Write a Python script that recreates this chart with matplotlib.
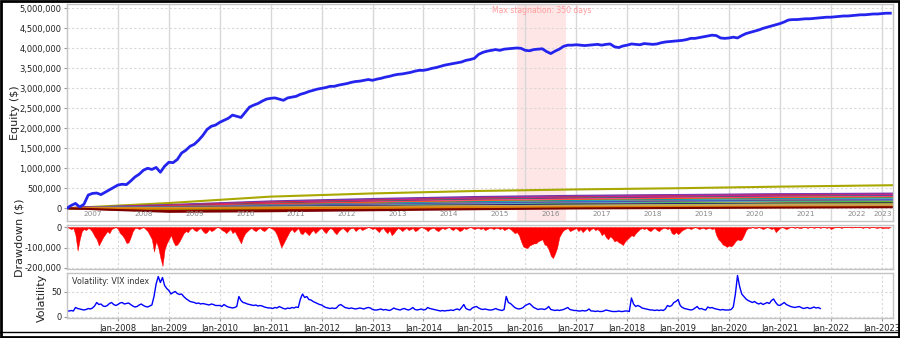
import numpy as np
import matplotlib
matplotlib.use("Agg")
import matplotlib.pyplot as plt
from matplotlib.patches import Rectangle
from matplotlib.ticker import FuncFormatter
from matplotlib.lines import Line2D

plt.rcParams['font.family'] = ['DejaVu Sans']
plt.rcParams['axes.unicode_minus'] = False

# portfolio equity, month-end values in thousands of $ (Jan-2007 .. Mar-2023)
equity_k = [
    0, 70, 120, 30, 100, 330, 370, 380, 340, 400, 460, 520,
    580, 600, 590, 680, 780, 850, 950, 1000, 970, 1020, 900, 1050,
    1150, 1140, 1220, 1380, 1450, 1550, 1600, 1700, 1820, 1970, 2050, 2080,
    2150, 2200, 2250, 2330, 2300, 2270, 2400, 2530, 2580, 2620, 2680, 2730,
    2750, 2760, 2730, 2700, 2760, 2780, 2800, 2850, 2880, 2920, 2950, 2980,
    3000, 3020, 3050, 3050, 3080, 3100, 3120, 3150, 3170, 3180, 3200, 3220,
    3200, 3230, 3250, 3280, 3300, 3330, 3350, 3360, 3380, 3400, 3430, 3450,
    3450, 3470, 3500, 3520, 3550, 3580, 3600, 3620, 3640, 3660, 3700, 3720,
    3750, 3850, 3900, 3930, 3950, 3970, 3950, 3980, 3990, 4000, 4010, 4000,
    3950, 3940, 3970, 3980, 3990, 3920, 3870, 3930, 3980, 4050, 4080, 4080,
    4090, 4080, 4070, 4080, 4090, 4100, 4080, 4100, 4110, 4040, 4020, 4060,
    4080, 4110, 4100, 4090, 4120, 4110, 4100, 4110, 4140, 4160, 4170, 4180,
    4190, 4200, 4220, 4250, 4250, 4270, 4290, 4310, 4330, 4320, 4260, 4250,
    4260, 4280, 4260, 4320, 4370, 4400, 4430, 4460, 4500, 4530, 4560, 4590,
    4620, 4660, 4710, 4720, 4720, 4730, 4740, 4740, 4750, 4760, 4770, 4780,
    4780, 4790, 4800, 4810, 4810, 4820, 4830, 4840, 4840, 4850, 4860, 4860,
    4870, 4880, 4880,
]

# drawdown, half-month values in thousands of $
drawdown_k = [
    0, -5, -10, -5, -40, -115, -60, -20, -10, -15, -5, -10, -25, -45, -60, -90, -70, -50, -35, -20, -30, -10, -5, 0,
    -10, -30, -40, -55, -78, -75, -50, -20, -5, -5, -10, -5, 0, -10, -20, -40, -60, -120, -70, -100, -150, -190, -110, -80,
    -60, -40, -70, -90, -85, -70, -50, -30, -20, -25, -10, -5, -15, -20, -10, -5, -20, -30, -25, -10, -20, -15, -5, 0,
    -5, -15, -20, -30, -20, -10, -30, -20, -40, -60, -80, -50, -30, -20, -10, -5, -15, -20, -10, -5, -15, -20, -10, 0,
    -5, -10, -20, -40, -70, -100, -80, -60, -40, -20, -10, -25, -15, -5, -30, -35, -20, -30, -40, -25, -15, -30, -20, -10,
    -5, -20, -30, -15, -5, -10, -25, -35, -20, -10, -5, -15, -25, -10, -5, -5, -20, -10, -5, -15, -10, -5, 0, -5,
    -10, -5, -15, -25, -10, -5, -20, -30, -15, -40, -30, -15, -5, -10, -20, -10, -5, -15, -10, -5, -20, -15, -5, 0,
    -5, -10, -20, -10, -5, -5, -15, -20, -10, -5, -10, -5, 0, -10, -15, -5, -10, -20, -15, -5, -10, -5, 0, -5,
    -10, -5, -5, -10, -5, -15, -10, -5, -5, -10, -5, -5, -10, -5, -15, -10, -5, -10, -20, -30, -25, -40, -70, -95,
    -100, -103, -90, -85, -80, -80, -70, -65, -60, -85, -90, -110, -140, -152, -130, -100, -50, -30, -15, -10, -5, -20, -15, -10,
    -5, -20, -10, -25, -15, -5, -20, -10, -5, -15, -10, -20, -40, -30, -50, -60, -45, -55, -70, -65, -75, -80, -88, -70,
    -60, -50, -40, -45, -30, -20, -10, -5, -10, -5, -15, -20, -10, -5, -15, -20, -10, -5, -5, -10, -5, -30, -35, -25,
    -35, -25, -15, -10, -5, -5, -10, -5, 0, -5, -10, -5, -5, -10, -5, -5, -10, -5, -40, -60, -70, -85, -90, -97,
    -90, -95, -85, -70, -60, -65, -60, -40, -15, -5, -5, 0, -5, -5, 0, -5, -10, -5, 0, -5, -10, -5, -25, -15,
    -5, 0, -5, -10, -5, 0, 0, -5, 0, -5, -5, 0, 0, -5, 0, 0, -5, 0, 0, -5, 0, 0, -5, 0,
    -10, -5, 0, 0, 0, -5, 0, 0, 0, 0, -3, 0, 0, 0, 0, -5, 0, 0, -5, 0, 0, -3, -5, 0,
    -5, -5, -3, -5, 0,
]

# VIX index, half-month values (Jan-2007 .. Oct-2021)
vix = [
    11, 11, 12, 11, 18, 16, 15, 14, 13, 14, 16, 15, 17, 21, 28, 24, 25, 21, 20, 22, 26, 28, 24, 22,
    24, 27, 28, 25, 26, 27, 24, 21, 19, 20, 23, 25, 22, 20, 19, 21, 23, 40, 65, 80, 68, 78, 62, 56,
    52, 45, 48, 50, 46, 44, 45, 40, 36, 33, 30, 29, 28, 26, 27, 25, 26, 25, 24, 23, 25, 24, 22, 22,
    22, 20, 24, 21, 19, 18, 17, 18, 20, 40, 32, 28, 27, 25, 24, 23, 22, 23, 21, 22, 21, 19, 18, 17,
    17, 16, 18, 17, 20, 18, 16, 15, 17, 16, 18, 17, 19, 18, 35, 45, 38, 40, 34, 33, 30, 28, 26, 24,
    23, 20, 18, 17, 16, 17, 16, 17, 22, 24, 21, 18, 17, 16, 17, 16, 15, 16, 17, 16, 15, 17, 18, 17,
    14, 13, 13, 14, 15, 13, 14, 13, 12, 14, 17, 15, 14, 13, 15, 16, 14, 13, 15, 18, 14, 13, 14, 15,
    13, 14, 18, 16, 15, 14, 13, 12, 11, 12, 11, 12, 12, 13, 12, 14, 15, 13, 18, 24, 16, 14, 13, 17,
    19, 20, 17, 15, 14, 15, 14, 13, 13, 14, 16, 14, 13, 12, 14, 40, 28, 26, 22, 18, 16, 15, 16, 18,
    22, 24, 26, 22, 18, 16, 14, 15, 15, 14, 16, 20, 14, 13, 12, 13, 12, 13, 14, 16, 18, 14, 13, 12,
    12, 11, 11, 12, 11, 12, 15, 11, 11, 10, 11, 10, 10, 11, 13, 12, 11, 10, 10, 10, 11, 10, 10, 11,
    11, 10, 37, 25, 20, 22, 20, 17, 16, 15, 14, 13, 13, 12, 13, 12, 13, 12, 15, 22, 20, 22, 28, 30,
    34, 22, 18, 16, 15, 14, 13, 14, 17, 20, 15, 16, 14, 13, 19, 17, 18, 16, 15, 14, 13, 14, 13, 13,
    13, 14, 19, 45, 82, 60, 45, 40, 35, 32, 30, 28, 30, 27, 25, 27, 24, 26, 28, 26, 32, 35, 28, 23,
    22, 25, 28, 24, 22, 20, 19, 18, 19, 20, 18, 16, 17, 18, 16, 17, 19, 17, 18, 16,
]

# single strategies, thousands of $ at the anchor dates
strategy_dates = [2007.0, 2009.0, 2011.0, 2013.0, 2015.0, 2017.0, 2019.0, 2021.0, 2023.2]
strategies_k = [
    [0, 130, 290, 370, 430, 470, 500, 540, 575],
    [0, 80, 170, 230, 280, 310, 330, 350, 365],
    [0, 70, 150, 210, 260, 290, 320, 340, 350],
    [0, 60, 140, 190, 240, 270, 300, 320, 335],
    [0, 55, 115, 175, 225, 255, 285, 305, 320],
    [0, 50, 120, 180, 230, 260, 290, 310, 325],
    [0, 40, 110, 160, 210, 240, 260, 285, 300],
    [0, 40, 80, 120, 160, 200, 240, 270, 295],
    [0, 45, 100, 150, 200, 230, 255, 275, 290],
    [0, 50, 100, 150, 195, 225, 250, 270, 285],
    [0, 30, 90, 140, 185, 215, 240, 265, 280],
    [0, 40, 95, 135, 170, 200, 230, 255, 270],
    [0, 20, 70, 120, 160, 190, 215, 240, 255],
    [0, 30, 75, 110, 150, 180, 205, 230, 245],
    [0, 25, 60, 100, 135, 165, 190, 215, 230],
    [0, 20, 55, 90, 125, 155, 180, 200, 215],
    [0, 35, 65, 95, 120, 145, 170, 190, 205],
    [0, 25, 55, 85, 115, 145, 170, 190, 200],
    [0, 15, 45, 80, 110, 140, 160, 180, 190],
    [0, 10, 40, 70, 100, 125, 150, 170, 180],
    [0, 20, 40, 65, 95, 120, 140, 160, 170],
    [0, 10, 30, 55, 80, 105, 125, 145, 155],
    [0, -20, 10, 40, 60, 80, 100, 120, 135],
    [0, -50, -30, -5, 20, 50, 80, 110, 130],
    [0, 5, 25, 45, 65, 85, 105, 120, 125],
    [0, -30, -10, 20, 45, 70, 90, 110, 120],
    [0, 15, 35, 50, 70, 90, 100, 110, 115],
    [0, -70, -55, -30, -5, 20, 50, 80, 100],
    [0, 0, 15, 30, 50, 65, 80, 95, 100],
    [0, 10, 20, 35, 50, 60, 70, 80, 85],
    [0, -10, 0, 10, 20, 25, 30, 35, 40],
    [0, -90, -75, -50, -25, -5, 5, 15, 25],
]
strategy_colors = [
    '#a8a800', '#7030a0', '#8040c0', '#e02020', '#9a3fd0', '#d0208a', '#30a030',
    '#6050d0', '#2050e0', '#c01040', '#ff70b0', '#ff3030', '#ff8c00', '#008c8c',
    '#20b8d8', '#909090', '#e04040', '#4682b4', '#3050ff', '#8b4513', '#60a0ff',
    '#40c040', '#ffa030', '#8b0000', '#ff9080', '#006400', '#101080', '#a00000',
    '#9acd32', '#c8a060', '#e08000', '#7a0000',
]

years = list(range(2008, 2024))
stagnation = (2015.84, 2016.80)

x_eq = 2007.0 + np.arange(len(equity_k)) / 12.0
x_dd = 2007.0 + np.arange(len(drawdown_k)) / 24.0
x_vix = 2007.0 + np.arange(len(vix)) / 24.0
xlim = (2007.0, 2023.22)

fig = plt.figure(figsize=(9, 3.38), dpi=100)
left, width = 67 / 900, 826 / 900
ax1 = fig.add_axes([left, 1 - 221 / 338, width, 217 / 338])
ax2 = fig.add_axes([left, 1 - 269 / 338, width, 44 / 338])
ax3 = fig.add_axes([left, 1 - 318 / 338, width, 45 / 338])

grid_c = '#d8d8d8'
for ax in (ax1, ax2, ax3):
    ax.set_xlim(*xlim)
    for s in ax.spines.values():
        s.set_color('#c4c4c4')
        s.set_linewidth(1.0)
    ax.tick_params(length=2, color='#999999', pad=2, labelcolor='#222222', labelsize=6)
    ax.set_axisbelow(True)

# equity panel
ax1.axvspan(*stagnation, color='#ffe6e6', lw=0, zorder=0)
for y in years:
    ax1.axvline(y, color=grid_c, lw=1, zorder=0.5)
ax1.set_yticks(np.arange(0, 5000001, 500000))
ax1.yaxis.grid(True, color=grid_c, ls=(0, (2, 2)), lw=0.8)
ax1.set_ylim(-320000, 5110000)
ax1.yaxis.set_major_formatter(FuncFormatter(lambda v, p: f'{v:,.0f}'))
ax1.set_xticks([])
for vals, c in zip(strategies_k, strategy_colors):
    ax1.plot(strategy_dates, np.array(vals) * 1000, color=c, lw=1.5, zorder=2)
ax1.plot(x_eq, np.array(equity_k) * 1000, color='#2424ee', lw=2.0, zorder=3)
for y in range(2007, 2023):
    ax1.text(y + 0.5, 0.03, str(y), transform=ax1.get_xaxis_transform(),
             ha='center', va='center', fontsize=5.2, color='#8a8a8a', zorder=4)
ax1.text(2023.2, 0.03, '2023', transform=ax1.get_xaxis_transform(),
         ha='right', va='center', fontsize=5.2, color='#8a8a8a', zorder=4)
ax1.text(sum(stagnation) / 2, 4950000, 'Max stagnation: 350 days', ha='center', va='center',
         fontsize=5.5, color='#ff9c9c', zorder=4)
ax1.set_ylabel('Equity ($)', fontsize=8, color='#222222')
ax1.yaxis.set_label_coords(-0.057, 0.5)

# drawdown panel
ax2.fill_between(x_dd, np.array(drawdown_k) * 1000, 0, color='#ff0000', lw=0.3, zorder=2)
ax2.set_ylim(-205000, 10000)
ax2.set_yticks([0, -100000, -200000])
ax2.yaxis.set_major_formatter(FuncFormatter(lambda v, p: f'{v:,.0f}'))
ax2.set_xticks(years)
ax2.tick_params(axis='x', labelbottom=False, length=0)
ax2.grid(True, color=grid_c, ls=(0, (2, 2)), lw=0.8)
ax2.set_ylabel('Drawdown ($)', fontsize=8, color='#222222')
ax2.yaxis.set_label_coords(-0.052, 0.72)

# volatility panel
ax3.plot(x_vix, vix, color='#0000ff', lw=1.0, zorder=2)
ax3.set_ylim(-3, 87)
ax3.set_yticks([0, 50])
ax3.set_xticks(years)
ax3.set_xticklabels([f'Jan-{y}' for y in years])
ax3.grid(True, color=grid_c, ls=(0, (2, 2)), lw=0.8)
ax3.text(0.006, 0.82, 'Volatility: VIX index', transform=ax3.transAxes,
         fontsize=5.8, color='#333333', va='center')
ax3.set_ylabel('Volatility', fontsize=8, color='#222222')
ax3.yaxis.set_label_coords(-0.024, 0.45)

# outer frame
fig.add_artist(Rectangle((0.0015, 0.003), 0.997, 0.994, transform=fig.transFigure,
                         fill=False, ec='black', lw=2))
fig.add_artist(Line2D([0, 1], [1 - 332 / 338, 1 - 332 / 338], transform=fig.transFigure,
                      color='black', lw=1))

fig.savefig('out.png', dpi=100)
